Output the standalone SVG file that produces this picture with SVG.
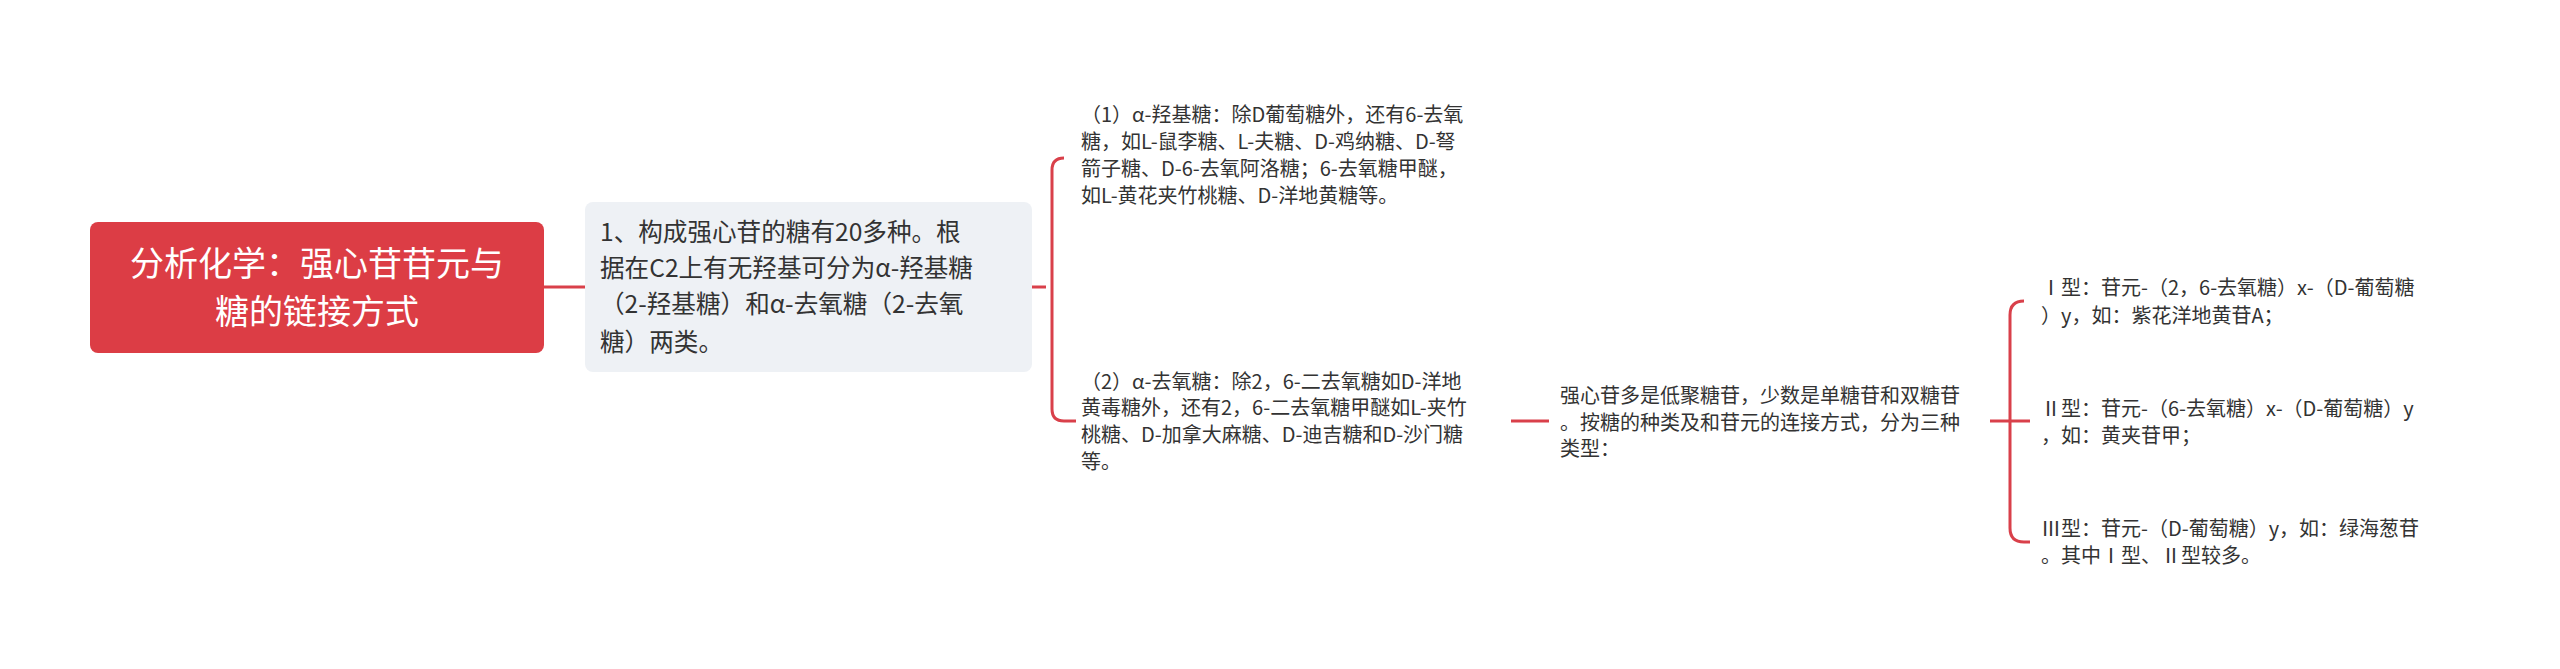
<svg xmlns="http://www.w3.org/2000/svg" width="2560" height="669" viewBox="0 0 2560 669">
<style>
text{font-family:"Noto Sans CJK SC","Liberation Sans",sans-serif;fill:#333;}
.s{font-size:20px;}
.m{font-size:24.6px;}
.r{font-size:34px;fill:#fff;}
.c{fill:none;stroke:#d9404a;stroke-width:3;}
</style>
<rect width="2560" height="669" fill="#fff"/>
<g id="connectors">
<path class="c" d="M544 287H585"/>
<path class="c" d="M1032 287H1046M1064 158H1064Q1052 158 1052 170V409Q1052 421 1064 421H1076"/>
<path class="c" d="M1511 421H1549"/>
<path class="c" d="M1990 421H2030M2024 301Q2010 301 2010 315V528Q2010 542 2024 542H2030"/>
</g>
<g id="root">
<rect x="90" y="222" width="454" height="131" rx="8" fill="#dc3d45"/>
<text class="r" x="317" y="276" text-anchor="middle">分析化学：强心苷苷元与</text>
<text class="r" x="317" y="324" text-anchor="middle">糖的链接方式</text>
</g>
<g id="n1">
<rect x="585" y="202" width="447" height="170" rx="8" fill="#eef1f5"/>
<text class="m" x="600" y="241">1、构成强心苷的糖有20多种。根</text>
<text class="m" x="600" y="277">据在C2上有无羟基可分为α-羟基糖</text>
<text class="m" x="600" y="313">（2-羟基糖）和α-去氧糖（2-去氧</text>
<text class="m" x="600" y="351">糖）两类。</text>
</g>
<g id="n1a">
<text class="s" x="1081" y="122">（1）α-羟基糖：除D葡萄糖外，还有6-去氧</text>
<text class="s" x="1081" y="149">糖，如L-鼠李糖、L-夫糖、D-鸡纳糖、D-弩</text>
<text class="s" x="1081" y="176">箭子糖、D-6-去氧阿洛糖；6-去氧糖甲醚，</text>
<text class="s" x="1081" y="203">如L-黄花夹竹桃糖、D-洋地黄糖等。</text>
</g>
<g id="n1b">
<text class="s" x="1081" y="389">（2）α-去氧糖：除2，6-二去氧糖如D-洋地</text>
<text class="s" x="1081" y="415">黄毒糖外，还有2，6-二去氧糖甲醚如L-夹竹</text>
<text class="s" x="1081" y="442">桃糖、D-加拿大麻糖、D-迪吉糖和D-沙门糖</text>
<text class="s" x="1081" y="469">等。</text>
</g>
<g id="n2">
<text class="s" x="1560" y="403">强心苷多是低聚糖苷，少数是单糖苷和双糖苷</text>
<text class="s" x="1560" y="430">。按糖的种类及和苷元的连接方式，分为三种</text>
<text class="s" x="1560" y="456">类型：</text>
</g>
<g id="t1">
<text class="s" x="2041" y="295">Ⅰ型：苷元-（2，6-去氧糖）x-（D-葡萄糖</text>
<text class="s" x="2041" y="323">）y，如：紫花洋地黄苷A；</text>
</g>
<g id="t2">
<text class="s" x="2041" y="416">Ⅱ型：苷元-（6-去氧糖）x-（D-葡萄糖）y</text>
<text class="s" x="2041" y="443">，如：黄夹苷甲；</text>
</g>
<g id="t3">
<text class="s" x="2041" y="536">Ⅲ型：苷元-（D-葡萄糖）y，如：绿海葱苷</text>
<text class="s" x="2041" y="563">。其中Ⅰ型、Ⅱ型较多。</text>
</g>
</svg>
